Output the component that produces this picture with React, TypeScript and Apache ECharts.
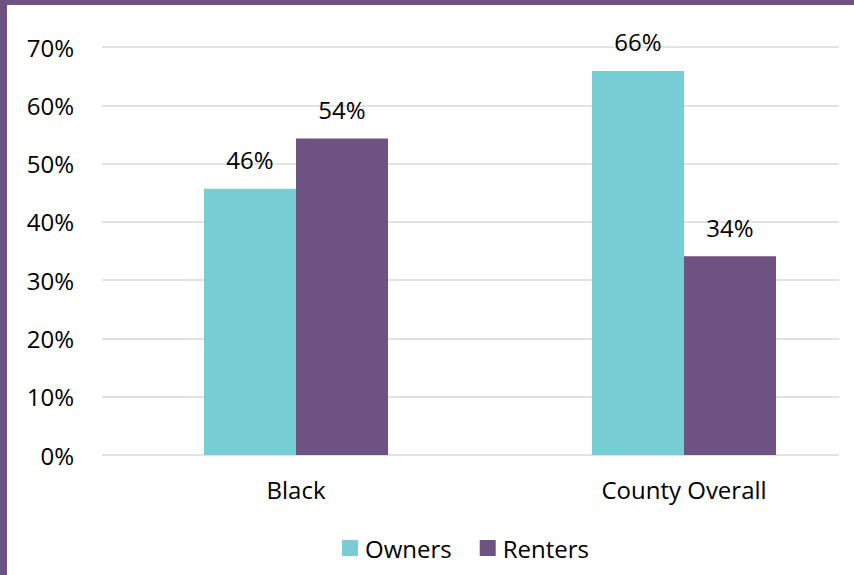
import React, { useEffect, useRef } from "react";
import * as echarts from "echarts";

const categories = ["Black", "County Overall"];
const owners = [45.7, 65.9];
const renters = [54.3, 34.1];
const yTicks = [0, 10, 20, 30, 40, 50, 60, 70];

const TEAL = "#77cdd4";
const PURPLE = "#6e5282";
const FONT = "'Open Sans', 'Noto Sans', sans-serif";

export default function App() {
  const ref = useRef<HTMLDivElement>(null);
  useEffect(() => {
    if (!ref.current) return;
    const chart = echarts.init(ref.current, undefined, { renderer: "svg" });
    const labelCfg = {
      show: true,
      position: "top" as const,
      distance: 17,
      fontSize: 24,
      fontFamily: FONT,
      color: "#000",
      formatter: (p: any) => Math.round(p.value) + "%",
    };
    chart.setOption({
      animation: false,
      backgroundColor: "#fff",
      textStyle: { fontFamily: FONT },
      graphic: [
        { type: "rect", shape: { x: 0, y: 0, width: 854, height: 5 }, style: { fill: PURPLE } },
        { type: "rect", shape: { x: 0, y: 0, width: 7, height: 575 }, style: { fill: PURPLE } },
      ],
      grid: [
        { left: 102, right: 15, top: 47, bottom: 120 },
        { left: 296, width: 388, top: 47, bottom: 120 },
      ],
      legend: {
        left: 337,
        top: 531,
        itemWidth: 16,
        itemHeight: 16,
        itemGap: 28,
        icon: "rect",
        textStyle: { fontSize: 24, fontFamily: FONT, color: "#000", padding: [0, 0, 0, 2] },
        data: ["Owners", "Renters"],
      },
      xAxis: [
        { gridIndex: 0, type: "category", data: categories, show: false },
        {
          gridIndex: 1,
          type: "category",
          data: categories,
          boundaryGap: false,
          axisLine: { show: false },
          axisTick: { show: false },
          axisLabel: { fontSize: 24, fontFamily: FONT, color: "#000", margin: 22 },
        },
      ],
      yAxis: [
        {
          gridIndex: 0,
          type: "value",
          min: yTicks[0],
          max: yTicks[yTicks.length - 1],
          interval: 10,
          axisLine: { show: false },
          axisTick: { show: false },
          axisLabel: { fontSize: 24, fontFamily: FONT, color: "#000", margin: 28, formatter: "{value}%" },
          splitLine: { lineStyle: { color: "#d9d9d9", width: 1.5 } },
        },
        { gridIndex: 1, type: "value", min: 0, max: 70, show: false, splitLine: { show: false } },
      ],
      series: [
        {
          name: "Owners",
          type: "bar",
          xAxisIndex: 1,
          yAxisIndex: 1,
          data: owners,
          barWidth: 92,
          barGap: "0%",
          clip: false,
          itemStyle: { color: TEAL },
          label: labelCfg,
        },
        {
          name: "Renters",
          type: "bar",
          xAxisIndex: 1,
          yAxisIndex: 1,
          data: renters,
          barWidth: 92,
          barGap: "0%",
          clip: false,
          itemStyle: { color: PURPLE },
          label: labelCfg,
        },
      ],
    });
    return () => chart.dispose();
  }, []);
  return (
    <div
      ref={ref}
      style={{ position: "absolute", left: 0, top: 0, width: 854, height: 575 }}
    />
  );
}
